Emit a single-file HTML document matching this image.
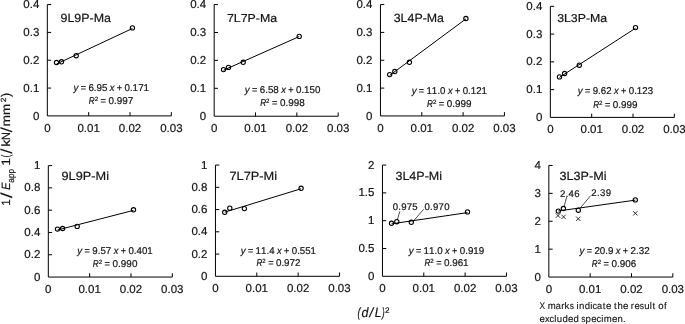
<!DOCTYPE html>
<html><head><meta charset="utf-8"><title>chart</title><style>
html,body{margin:0;padding:0;background:#fff;width:685px;height:324px;overflow:hidden;position:relative}
text{font-family:"Liberation Sans", sans-serif;fill:#141414;font-kerning:none;text-rendering:geometricPrecision}
.tk,.b,.b text{stroke:#141414;stroke-width:0.2px}
.m text{stroke:#141414;stroke-width:0.12px}
.tk{font-size:11.5px}
</style></head><body>
<svg width="685" height="324" viewBox="0 0 685 324" style="position:absolute;left:0;top:0;will-change:transform">
<path d="M47.34 4.57V115.9H171.34" fill="none" stroke="#000" stroke-width="1"/>
<path d="M47.34 88.067h3.8M47.34 60.235h3.8M47.34 32.403h3.8M47.34 4.57h3.8M88.673 115.9v-3.8M130.007 115.9v-3.8M171.34 115.9v-3.8" fill="none" stroke="#000" stroke-width="1"/>
<text x="39.34" y="119.5" text-anchor="end" class="tk">0</text>
<text x="39.34" y="91.667" text-anchor="end" class="tk">0.1</text>
<text x="39.34" y="63.835" text-anchor="end" class="tk">0.2</text>
<text x="39.34" y="36.003" text-anchor="end" class="tk">0.3</text>
<text x="39.34" y="8.17" text-anchor="end" class="tk">0.4</text>
<text x="47.34" y="131.6" text-anchor="middle" class="tk">0</text>
<text x="88.673" y="131.6" text-anchor="middle" class="tk">0.01</text>
<text x="130.007" y="131.6" text-anchor="middle" class="tk">0.02</text>
<text x="171.34" y="131.6" text-anchor="middle" class="tk">0.03</text>
<text transform="matrix(1.037 0 0 0.993 60.517 22.2)" class="b"><tspan x="0" y="0" font-size="12">9L9P-Ma</tspan></text>
<line x1="56.5" y1="64.02" x2="132.4" y2="28.499" stroke="#000" stroke-width="1"/>
<circle cx="56.5" cy="62.5" r="2.15" fill="none" stroke="#000" stroke-width="1.1"/>
<circle cx="61.5" cy="61.8" r="2.15" fill="none" stroke="#000" stroke-width="1.1"/>
<circle cx="76.2" cy="55.7" r="2.15" fill="none" stroke="#000" stroke-width="1.1"/>
<circle cx="132.4" cy="27.9" r="2.15" fill="none" stroke="#000" stroke-width="1.1"/>
<g class="b"><text transform="matrix(0.98 0 0 1 73.45 90.8)" font-size="9.9" font-style="italic">y</text><text transform="matrix(0.92 0 0 1 80.69 90.8)" font-size="9.9">=</text><text transform="matrix(0.99 0 0 1 88.4 90.8)" font-size="9.9">6</text><text transform="matrix(0.98 0 0 1 93.85 90.8)" font-size="9.9">.</text><text transform="matrix(0.99 0 0 1 96.55 90.8)" font-size="9.9">9</text><text transform="matrix(0.99 0 0 1 101.98 90.8)" font-size="9.9">5</text><text transform="matrix(0.94 0 0 1 109.87 90.8)" font-size="9.9" font-style="italic">x</text><text transform="matrix(0.92 0 0 1 116.87 90.8)" font-size="9.9">+</text><text transform="matrix(0.99 0 0 1 124.61 90.8)" font-size="9.9">0</text><text transform="matrix(0.98 0 0 1 130.04 90.8)" font-size="9.9">.</text><text transform="matrix(0.99 0 0 1 132.6 90.8)" font-size="9.9">1</text><text transform="matrix(0.99 0 0 1 138.16 90.8)" font-size="9.9">7</text><text transform="matrix(0.99 0 0 1 143.45 90.8)" font-size="9.9">1</text></g>
<g class="b"><text transform="matrix(0.83 0 0 1 88.75 103.8)" font-size="9.9" font-style="italic">R</text><text x="94.66" y="101.3" font-size="6.14">2</text><text transform="matrix(0.94 0 0 1 100.53 103.8)" font-size="9.9">=</text><text x="108.41" y="103.8" font-size="9.9">0</text><text transform="matrix(1 0 0 1 113.92 103.8)" font-size="9.9">.</text><text x="116.67" y="103.8" font-size="9.9">9</text><text x="122.18" y="103.8" font-size="9.9">9</text><text x="127.69" y="103.8" font-size="9.9">7</text></g>
<path d="M214.18 4.57V116.23H338.18" fill="none" stroke="#000" stroke-width="1"/>
<path d="M214.18 88.315h3.8M214.18 60.4h3.8M214.18 32.485h3.8M214.18 4.57h3.8M255.513 116.23v-3.8M296.847 116.23v-3.8M338.18 116.23v-3.8" fill="none" stroke="#000" stroke-width="1"/>
<text x="206.18" y="119.83" text-anchor="end" class="tk">0</text>
<text x="206.18" y="91.915" text-anchor="end" class="tk">0.1</text>
<text x="206.18" y="64" text-anchor="end" class="tk">0.2</text>
<text x="206.18" y="36.085" text-anchor="end" class="tk">0.3</text>
<text x="206.18" y="8.17" text-anchor="end" class="tk">0.4</text>
<text x="214.18" y="131.93" text-anchor="middle" class="tk">0</text>
<text x="255.513" y="131.93" text-anchor="middle" class="tk">0.01</text>
<text x="296.847" y="131.93" text-anchor="middle" class="tk">0.02</text>
<text x="338.18" y="131.93" text-anchor="middle" class="tk">0.03</text>
<text transform="matrix(1.028 0 0 0.957 226.968 21.9)" class="b"><tspan x="0" y="0" font-size="12">7L7P-Ma</tspan></text>
<line x1="223.5" y1="70.216" x2="299.2" y2="36.576" stroke="#000" stroke-width="1"/>
<circle cx="223.5" cy="69.6" r="2.15" fill="none" stroke="#000" stroke-width="1.1"/>
<circle cx="228.5" cy="67.4" r="2.15" fill="none" stroke="#000" stroke-width="1.1"/>
<circle cx="243.2" cy="62.3" r="2.15" fill="none" stroke="#000" stroke-width="1.1"/>
<circle cx="299.2" cy="36.4" r="2.15" fill="none" stroke="#000" stroke-width="1.1"/>
<g class="b"><text transform="matrix(0.98 0 0 1 244.75 92.8)" font-size="9.9" font-style="italic">y</text><text transform="matrix(0.92 0 0 1 251.99 92.8)" font-size="9.9">=</text><text transform="matrix(0.99 0 0 1 259.71 92.8)" font-size="9.9">6</text><text transform="matrix(0.98 0 0 1 265.17 92.8)" font-size="9.9">.</text><text transform="matrix(0.99 0 0 1 267.88 92.8)" font-size="9.9">5</text><text transform="matrix(0.99 0 0 1 273.3 92.8)" font-size="9.9">8</text><text transform="matrix(0.94 0 0 1 281.2 92.8)" font-size="9.9" font-style="italic">x</text><text transform="matrix(0.92 0 0 1 288.21 92.8)" font-size="9.9">+</text><text transform="matrix(0.99 0 0 1 295.96 92.8)" font-size="9.9">0</text><text transform="matrix(0.98 0 0 1 301.39 92.8)" font-size="9.9">.</text><text transform="matrix(0.99 0 0 1 303.96 92.8)" font-size="9.9">1</text><text transform="matrix(0.99 0 0 1 309.53 92.8)" font-size="9.9">5</text><text transform="matrix(0.99 0 0 1 314.95 92.8)" font-size="9.9">0</text></g>
<g class="b"><text transform="matrix(0.83 0 0 1 260.15 105.6)" font-size="9.9" font-style="italic">R</text><text x="266.08" y="103.1" font-size="6.14">2</text><text transform="matrix(0.94 0 0 1 271.97 105.6)" font-size="9.9">=</text><text x="279.88" y="105.6" font-size="9.9">0</text><text x="285.4" y="105.6" font-size="9.9">.</text><text x="288.16" y="105.6" font-size="9.9">9</text><text x="293.7" y="105.6" font-size="9.9">9</text><text x="299.22" y="105.6" font-size="9.9">8</text></g>
<path d="M380.45 4.57V115.94H504.45" fill="none" stroke="#000" stroke-width="1"/>
<path d="M380.45 88.097h3.8M380.45 60.255h3.8M380.45 32.412h3.8M380.45 4.57h3.8M421.783 115.94v-3.8M463.117 115.94v-3.8M504.45 115.94v-3.8" fill="none" stroke="#000" stroke-width="1"/>
<text x="372.45" y="119.54" text-anchor="end" class="tk">0</text>
<text x="372.45" y="91.697" text-anchor="end" class="tk">0.1</text>
<text x="372.45" y="63.855" text-anchor="end" class="tk">0.2</text>
<text x="372.45" y="36.012" text-anchor="end" class="tk">0.3</text>
<text x="372.45" y="8.17" text-anchor="end" class="tk">0.4</text>
<text x="380.45" y="131.64" text-anchor="middle" class="tk">0</text>
<text x="421.783" y="131.64" text-anchor="middle" class="tk">0.01</text>
<text x="463.117" y="131.64" text-anchor="middle" class="tk">0.02</text>
<text x="504.45" y="131.64" text-anchor="middle" class="tk">0.03</text>
<text transform="matrix(1.032 0 0 0.993 393.728 22.2)" class="b"><tspan x="0" y="0" font-size="12">3L4P-Ma</tspan></text>
<line x1="389.7" y1="75.397" x2="465.9" y2="18.935" stroke="#000" stroke-width="1"/>
<circle cx="389.7" cy="74.6" r="2.15" fill="none" stroke="#000" stroke-width="1.1"/>
<circle cx="394.8" cy="71.5" r="2.15" fill="none" stroke="#000" stroke-width="1.1"/>
<circle cx="409.4" cy="62.3" r="2.15" fill="none" stroke="#000" stroke-width="1.1"/>
<circle cx="465.9" cy="18.5" r="2.15" fill="none" stroke="#000" stroke-width="1.1"/>
<g class="b"><text transform="matrix(0.98 0 0 1 411.65 93.8)" font-size="9.9" font-style="italic">y</text><text transform="matrix(0.92 0 0 1 418.86 93.8)" font-size="9.9">=</text><text transform="matrix(0.98 0 0 1 426.46 93.8)" font-size="9.9">1</text><text transform="matrix(0.98 0 0 1 431.87 93.8)" font-size="9.9">1</text><text transform="matrix(0.98 0 0 1 437.41 93.8)" font-size="9.9">.</text><text transform="matrix(0.98 0 0 1 440.1 93.8)" font-size="9.9">0</text><text transform="matrix(0.93 0 0 1 447.97 93.8)" font-size="9.9" font-style="italic">x</text><text transform="matrix(0.92 0 0 1 454.95 93.8)" font-size="9.9">+</text><text transform="matrix(0.98 0 0 1 462.68 93.8)" font-size="9.9">0</text><text transform="matrix(0.98 0 0 1 468.09 93.8)" font-size="9.9">.</text><text transform="matrix(0.98 0 0 1 470.64 93.8)" font-size="9.9">1</text><text transform="matrix(0.98 0 0 1 476.19 93.8)" font-size="9.9">2</text><text transform="matrix(0.98 0 0 1 481.46 93.8)" font-size="9.9">1</text></g>
<g class="b"><text transform="matrix(0.83 0 0 1 427.05 106.9)" font-size="9.9" font-style="italic">R</text><text x="432.97" y="104.4" font-size="6.14">2</text><text transform="matrix(0.94 0 0 1 438.85 106.9)" font-size="9.9">=</text><text x="446.75" y="106.9" font-size="9.9">0</text><text transform="matrix(1 0 0 1 452.26 106.9)" font-size="9.9">.</text><text x="455.02" y="106.9" font-size="9.9">9</text><text x="460.54" y="106.9" font-size="9.9">9</text><text x="466.06" y="106.9" font-size="9.9">9</text></g>
<path d="M550.35 6.32V117.4H674.35" fill="none" stroke="#000" stroke-width="1"/>
<path d="M550.35 89.63h3.8M550.35 61.86h3.8M550.35 34.09h3.8M550.35 6.32h3.8M591.683 117.4v-3.8M633.017 117.4v-3.8M674.35 117.4v-3.8" fill="none" stroke="#000" stroke-width="1"/>
<text x="542.35" y="121" text-anchor="end" class="tk">0</text>
<text x="542.35" y="93.23" text-anchor="end" class="tk">0.1</text>
<text x="542.35" y="65.46" text-anchor="end" class="tk">0.2</text>
<text x="542.35" y="37.69" text-anchor="end" class="tk">0.3</text>
<text x="542.35" y="9.92" text-anchor="end" class="tk">0.4</text>
<text x="550.35" y="133.1" text-anchor="middle" class="tk">0</text>
<text x="591.683" y="133.1" text-anchor="middle" class="tk">0.01</text>
<text x="633.017" y="133.1" text-anchor="middle" class="tk">0.02</text>
<text x="674.35" y="133.1" text-anchor="middle" class="tk">0.03</text>
<text transform="matrix(1.028 0 0 0.957 557.13 22.4)" class="b"><tspan x="0" y="0" font-size="12">3L3P-Ma</tspan></text>
<line x1="559.5" y1="77.329" x2="635.5" y2="28.208" stroke="#000" stroke-width="1"/>
<circle cx="559.5" cy="76.9" r="2.15" fill="none" stroke="#000" stroke-width="1.1"/>
<circle cx="564.6" cy="73.5" r="2.15" fill="none" stroke="#000" stroke-width="1.1"/>
<circle cx="579.3" cy="65.2" r="2.15" fill="none" stroke="#000" stroke-width="1.1"/>
<circle cx="635.5" cy="27.6" r="2.15" fill="none" stroke="#000" stroke-width="1.1"/>
<g class="b"><text transform="matrix(0.98 0 0 1 577.75 94.2)" font-size="9.9" font-style="italic">y</text><text transform="matrix(0.92 0 0 1 584.97 94.2)" font-size="9.9">=</text><text transform="matrix(0.98 0 0 1 592.71 94.2)" font-size="9.9">9</text><text transform="matrix(0.98 0 0 1 598.12 94.2)" font-size="9.9">.</text><text transform="matrix(0.98 0 0 1 600.78 94.2)" font-size="9.9">6</text><text transform="matrix(0.98 0 0 1 606.23 94.2)" font-size="9.9">2</text><text transform="matrix(0.93 0 0 1 614.11 94.2)" font-size="9.9" font-style="italic">x</text><text transform="matrix(0.92 0 0 1 621.11 94.2)" font-size="9.9">+</text><text transform="matrix(0.98 0 0 1 628.84 94.2)" font-size="9.9">0</text><text transform="matrix(0.98 0 0 1 634.26 94.2)" font-size="9.9">.</text><text transform="matrix(0.98 0 0 1 636.82 94.2)" font-size="9.9">1</text><text transform="matrix(0.98 0 0 1 642.37 94.2)" font-size="9.9">2</text><text transform="matrix(0.98 0 0 1 647.81 94.2)" font-size="9.9">3</text></g>
<g class="b"><text transform="matrix(0.82 0 0 1 593.15 107.9)" font-size="9.9" font-style="italic">R</text><text transform="matrix(1 0 0 1 599.04 105.4)" font-size="6.14">2</text><text transform="matrix(0.93 0 0 1 604.9 107.9)" font-size="9.9">=</text><text transform="matrix(1 0 0 1 612.75 107.9)" font-size="9.9">0</text><text transform="matrix(0.99 0 0 1 618.24 107.9)" font-size="9.9">.</text><text transform="matrix(1 0 0 1 620.98 107.9)" font-size="9.9">9</text><text transform="matrix(1 0 0 1 626.47 107.9)" font-size="9.9">9</text><text transform="matrix(1 0 0 1 631.97 107.9)" font-size="9.9">9</text></g>
<path d="M48.32 165.58V277.05H172.32" fill="none" stroke="#000" stroke-width="1"/>
<path d="M48.32 254.756h3.8M48.32 232.462h3.8M48.32 210.168h3.8M48.32 187.874h3.8M48.32 165.58h3.8M89.653 277.05v-3.8M130.987 277.05v-3.8M172.32 277.05v-3.8" fill="none" stroke="#000" stroke-width="1"/>
<text x="40.32" y="280.65" text-anchor="end" class="tk">0</text>
<text x="40.32" y="258.356" text-anchor="end" class="tk">0.2</text>
<text x="40.32" y="236.062" text-anchor="end" class="tk">0.4</text>
<text x="40.32" y="213.768" text-anchor="end" class="tk">0.6</text>
<text x="40.32" y="191.474" text-anchor="end" class="tk">0.8</text>
<text x="40.32" y="169.18" text-anchor="end" class="tk">1</text>
<text x="48.32" y="292.75" text-anchor="middle" class="tk">0</text>
<text x="89.653" y="292.75" text-anchor="middle" class="tk">0.01</text>
<text x="130.987" y="292.75" text-anchor="middle" class="tk">0.02</text>
<text x="172.32" y="292.75" text-anchor="middle" class="tk">0.03</text>
<text transform="matrix(1.062 0 0 0.993 61.503 179.8)" class="b"><tspan x="0" y="0" font-size="12">9L9P-Mi</tspan></text>
<line x1="57.5" y1="229.981" x2="133.5" y2="210.367" stroke="#000" stroke-width="1"/>
<circle cx="57.5" cy="229.1" r="2.15" fill="none" stroke="#000" stroke-width="1.1"/>
<circle cx="62.6" cy="228.5" r="2.15" fill="none" stroke="#000" stroke-width="1.1"/>
<circle cx="77.2" cy="226.4" r="2.15" fill="none" stroke="#000" stroke-width="1.1"/>
<circle cx="133.5" cy="209.8" r="2.15" fill="none" stroke="#000" stroke-width="1.1"/>
<g class="b"><text transform="matrix(0.98 0 0 1 77.35 253.8)" font-size="9.9" font-style="italic">y</text><text transform="matrix(0.92 0 0 1 84.56 253.8)" font-size="9.9">=</text><text transform="matrix(0.98 0 0 1 92.29 253.8)" font-size="9.9">9</text><text transform="matrix(0.98 0 0 1 97.7 253.8)" font-size="9.9">.</text><text transform="matrix(0.98 0 0 1 100.4 253.8)" font-size="9.9">5</text><text transform="matrix(0.98 0 0 1 105.79 253.8)" font-size="9.9">7</text><text transform="matrix(0.93 0 0 1 113.67 253.8)" font-size="9.9" font-style="italic">x</text><text transform="matrix(0.92 0 0 1 120.65 253.8)" font-size="9.9">+</text><text transform="matrix(0.98 0 0 1 128.38 253.8)" font-size="9.9">0</text><text transform="matrix(0.98 0 0 1 133.79 253.8)" font-size="9.9">.</text><text transform="matrix(0.98 0 0 1 136.51 253.8)" font-size="9.9">4</text><text transform="matrix(0.98 0 0 1 141.89 253.8)" font-size="9.9">0</text><text transform="matrix(0.98 0 0 1 147.16 253.8)" font-size="9.9">1</text></g>
<g class="b"><text transform="matrix(0.83 0 0 1 92.75 266.9)" font-size="9.9" font-style="italic">R</text><text x="98.69" y="264.4" font-size="6.14">2</text><text transform="matrix(0.94 0 0 1 104.59 266.9)" font-size="9.9">=</text><text x="112.51" y="266.9" font-size="9.9">0</text><text x="118.03" y="266.9" font-size="9.9">.</text><text x="120.8" y="266.9" font-size="9.9">9</text><text x="126.34" y="266.9" font-size="9.9">9</text><text x="131.88" y="266.9" font-size="9.9">0</text></g>
<path d="M215.46 165.08V276.3H339.46" fill="none" stroke="#000" stroke-width="1"/>
<path d="M215.46 254.056h3.8M215.46 231.812h3.8M215.46 209.568h3.8M215.46 187.324h3.8M215.46 165.08h3.8M256.793 276.3v-3.8M298.127 276.3v-3.8M339.46 276.3v-3.8" fill="none" stroke="#000" stroke-width="1"/>
<text x="207.46" y="279.9" text-anchor="end" class="tk">0</text>
<text x="207.46" y="257.656" text-anchor="end" class="tk">0.2</text>
<text x="207.46" y="235.412" text-anchor="end" class="tk">0.4</text>
<text x="207.46" y="213.168" text-anchor="end" class="tk">0.6</text>
<text x="207.46" y="190.924" text-anchor="end" class="tk">0.8</text>
<text x="207.46" y="168.68" text-anchor="end" class="tk">1</text>
<text x="215.46" y="292" text-anchor="middle" class="tk">0</text>
<text x="256.793" y="292" text-anchor="middle" class="tk">0.01</text>
<text x="298.127" y="292" text-anchor="middle" class="tk">0.02</text>
<text x="339.46" y="292" text-anchor="middle" class="tk">0.03</text>
<text transform="matrix(1.066 0 0 0.993 229.444 179.8)" class="b"><tspan x="0" y="0" font-size="12">7L7P-Mi</tspan></text>
<line x1="224.7" y1="212.183" x2="301.1" y2="188.748" stroke="#000" stroke-width="1"/>
<circle cx="224.7" cy="212.3" r="2.15" fill="none" stroke="#000" stroke-width="1.1"/>
<circle cx="229.8" cy="208.2" r="2.15" fill="none" stroke="#000" stroke-width="1.1"/>
<circle cx="244.4" cy="208.6" r="2.15" fill="none" stroke="#000" stroke-width="1.1"/>
<circle cx="301.1" cy="188.3" r="2.15" fill="none" stroke="#000" stroke-width="1.1"/>
<g class="b"><text transform="matrix(0.97 0 0 1 240.85 253.6)" font-size="9.9" font-style="italic">y</text><text transform="matrix(0.92 0 0 1 248.04 253.6)" font-size="9.9">=</text><text transform="matrix(0.98 0 0 1 255.61 253.6)" font-size="9.9">1</text><text transform="matrix(0.98 0 0 1 261.01 253.6)" font-size="9.9">1</text><text transform="matrix(0.98 0 0 1 266.54 253.6)" font-size="9.9">.</text><text transform="matrix(0.98 0 0 1 269.25 253.6)" font-size="9.9">4</text><text transform="matrix(0.93 0 0 1 277.07 253.6)" font-size="9.9" font-style="italic">x</text><text transform="matrix(0.92 0 0 1 284.04 253.6)" font-size="9.9">+</text><text transform="matrix(0.98 0 0 1 291.74 253.6)" font-size="9.9">0</text><text transform="matrix(0.98 0 0 1 297.14 253.6)" font-size="9.9">.</text><text transform="matrix(0.98 0 0 1 299.83 253.6)" font-size="9.9">5</text><text transform="matrix(0.98 0 0 1 305.22 253.6)" font-size="9.9">5</text><text transform="matrix(0.98 0 0 1 310.48 253.6)" font-size="9.9">1</text></g>
<g class="b"><text transform="matrix(0.82 0 0 1 256.45 265.9)" font-size="9.9" font-style="italic">R</text><text transform="matrix(0.99 0 0 1 262.3 263.4)" font-size="6.14">2</text><text transform="matrix(0.93 0 0 1 268.13 265.9)" font-size="9.9">=</text><text transform="matrix(0.99 0 0 1 275.93 265.9)" font-size="9.9">0</text><text transform="matrix(0.99 0 0 1 281.39 265.9)" font-size="9.9">.</text><text transform="matrix(0.99 0 0 1 284.11 265.9)" font-size="9.9">9</text><text transform="matrix(0.99 0 0 1 289.56 265.9)" font-size="9.9">7</text><text transform="matrix(0.99 0 0 1 295.03 265.9)" font-size="9.9">2</text></g>
<path d="M382.46 165.08V276.3H506.46" fill="none" stroke="#000" stroke-width="1"/>
<path d="M382.46 248.495h3.8M382.46 220.69h3.8M382.46 192.885h3.8M382.46 165.08h3.8M423.793 276.3v-3.8M465.127 276.3v-3.8M506.46 276.3v-3.8" fill="none" stroke="#000" stroke-width="1"/>
<text x="374.46" y="279.9" text-anchor="end" class="tk">0</text>
<text x="374.46" y="252.095" text-anchor="end" class="tk">0.5</text>
<text x="374.46" y="224.29" text-anchor="end" class="tk">1</text>
<text x="374.46" y="196.485" text-anchor="end" class="tk">1.5</text>
<text x="374.46" y="168.68" text-anchor="end" class="tk">2</text>
<text x="382.46" y="292" text-anchor="middle" class="tk">0</text>
<text x="423.793" y="292" text-anchor="middle" class="tk">0.01</text>
<text x="465.127" y="292" text-anchor="middle" class="tk">0.02</text>
<text x="506.46" y="292" text-anchor="middle" class="tk">0.03</text>
<text transform="matrix(1.043 0 0 0.993 395.423 180.1)" class="b"><tspan x="0" y="0" font-size="12">3L4P-Mi</tspan></text>
<line x1="391.5" y1="223.857" x2="467.5" y2="212.609" stroke="#000" stroke-width="1"/>
<circle cx="391.5" cy="223.3" r="2.15" fill="none" stroke="#000" stroke-width="1.1"/>
<circle cx="396.8" cy="221.7" r="2.15" fill="none" stroke="#000" stroke-width="1.1"/>
<circle cx="411.3" cy="222.3" r="2.15" fill="none" stroke="#000" stroke-width="1.1"/>
<circle cx="467.5" cy="211.9" r="2.15" fill="none" stroke="#000" stroke-width="1.1"/>
<g class="b"><text transform="matrix(0.98 0 0 1 408.65 253.6)" font-size="9.9" font-style="italic">y</text><text transform="matrix(0.92 0 0 1 415.89 253.6)" font-size="9.9">=</text><text transform="matrix(0.99 0 0 1 423.51 253.6)" font-size="9.9">1</text><text transform="matrix(0.99 0 0 1 428.93 253.6)" font-size="9.9">1</text><text transform="matrix(0.98 0 0 1 434.5 253.6)" font-size="9.9">.</text><text transform="matrix(0.99 0 0 1 437.19 253.6)" font-size="9.9">0</text><text transform="matrix(0.94 0 0 1 445.09 253.6)" font-size="9.9" font-style="italic">x</text><text transform="matrix(0.92 0 0 1 452.1 253.6)" font-size="9.9">+</text><text transform="matrix(0.99 0 0 1 459.85 253.6)" font-size="9.9">0</text><text transform="matrix(0.98 0 0 1 465.28 253.6)" font-size="9.9">.</text><text transform="matrix(0.99 0 0 1 467.98 253.6)" font-size="9.9">9</text><text transform="matrix(0.99 0 0 1 473.27 253.6)" font-size="9.9">1</text><text transform="matrix(0.99 0 0 1 478.83 253.6)" font-size="9.9">9</text></g>
<g class="b"><text transform="matrix(0.82 0 0 1 424.45 265.9)" font-size="9.9" font-style="italic">R</text><text transform="matrix(1 0 0 1 430.33 263.4)" font-size="6.14">2</text><text transform="matrix(0.93 0 0 1 436.18 265.9)" font-size="9.9">=</text><text transform="matrix(1 0 0 1 444.02 265.9)" font-size="9.9">0</text><text transform="matrix(0.99 0 0 1 449.51 265.9)" font-size="9.9">.</text><text transform="matrix(1 0 0 1 452.25 265.9)" font-size="9.9">9</text><text transform="matrix(1 0 0 1 457.7 265.9)" font-size="9.9">6</text><text transform="matrix(1 0 0 1 463.09 265.9)" font-size="9.9">1</text></g>
<path d="M548.83 165.46V277.05H672.83" fill="none" stroke="#000" stroke-width="1"/>
<path d="M548.83 249.153h3.8M548.83 221.255h3.8M548.83 193.358h3.8M548.83 165.46h3.8M590.163 277.05v-3.8M631.497 277.05v-3.8M672.83 277.05v-3.8" fill="none" stroke="#000" stroke-width="1"/>
<text x="540.83" y="280.65" text-anchor="end" class="tk">0</text>
<text x="540.83" y="252.752" text-anchor="end" class="tk">1</text>
<text x="540.83" y="224.855" text-anchor="end" class="tk">2</text>
<text x="540.83" y="196.958" text-anchor="end" class="tk">3</text>
<text x="540.83" y="169.06" text-anchor="end" class="tk">4</text>
<text x="548.83" y="292.75" text-anchor="middle" class="tk">0</text>
<text x="590.163" y="292.75" text-anchor="middle" class="tk">0.01</text>
<text x="631.497" y="292.75" text-anchor="middle" class="tk">0.02</text>
<text x="672.83" y="292.75" text-anchor="middle" class="tk">0.03</text>
<text transform="matrix(1.055 0 0 0.993 559.418 180.1)" class="b"><tspan x="0" y="0" font-size="12">3L3P-Mi</tspan></text>
<line x1="558.3" y1="210.992" x2="635.3" y2="200.13" stroke="#000" stroke-width="1"/>
<circle cx="558.3" cy="211.1" r="2.15" fill="none" stroke="#000" stroke-width="1.1"/>
<circle cx="563.4" cy="208.5" r="2.15" fill="none" stroke="#000" stroke-width="1.1"/>
<circle cx="578.3" cy="210.2" r="2.15" fill="none" stroke="#000" stroke-width="1.1"/>
<circle cx="635.3" cy="199.9" r="2.15" fill="none" stroke="#000" stroke-width="1.1"/>
<g class="b"><text transform="matrix(0.98 0 0 1 579.45 253.8)" font-size="9.9" font-style="italic">y</text><text transform="matrix(0.92 0 0 1 586.69 253.8)" font-size="9.9">=</text><text transform="matrix(0.99 0 0 1 594.43 253.8)" font-size="9.9">2</text><text transform="matrix(0.99 0 0 1 599.86 253.8)" font-size="9.9">0</text><text transform="matrix(0.98 0 0 1 605.28 253.8)" font-size="9.9">.</text><text transform="matrix(0.99 0 0 1 607.98 253.8)" font-size="9.9">9</text><text transform="matrix(0.94 0 0 1 615.87 253.8)" font-size="9.9" font-style="italic">x</text><text transform="matrix(0.92 0 0 1 622.87 253.8)" font-size="9.9">+</text><text transform="matrix(0.99 0 0 1 630.62 253.8)" font-size="9.9">2</text><text transform="matrix(0.98 0 0 1 636.04 253.8)" font-size="9.9">.</text><text transform="matrix(0.99 0 0 1 638.77 253.8)" font-size="9.9">3</text><text transform="matrix(0.99 0 0 1 644.17 253.8)" font-size="9.9">2</text></g>
<g class="b"><text transform="matrix(0.82 0 0 1 591.85 266.8)" font-size="9.9" font-style="italic">R</text><text transform="matrix(1 0 0 1 597.74 264.3)" font-size="6.14">2</text><text transform="matrix(0.93 0 0 1 603.6 266.8)" font-size="9.9">=</text><text transform="matrix(1 0 0 1 611.45 266.8)" font-size="9.9">0</text><text transform="matrix(0.99 0 0 1 616.94 266.8)" font-size="9.9">.</text><text transform="matrix(1 0 0 1 619.68 266.8)" font-size="9.9">9</text><text transform="matrix(1 0 0 1 625.17 266.8)" font-size="9.9">0</text><text transform="matrix(1 0 0 1 630.64 266.8)" font-size="9.9">6</text></g>
<path d="M555.8 213.4L560.2 217.8M560.2 213.4L555.8 217.8" stroke="#000" stroke-width="0.8"/>
<path d="M561.4 214.7L565.8 219.1M565.8 214.7L561.4 219.1" stroke="#000" stroke-width="0.8"/>
<path d="M576.1 216.6L580.5 221M580.5 216.6L576.1 221" stroke="#000" stroke-width="0.8"/>
<path d="M633.1 211.1L637.5 215.5M637.5 211.1L633.1 215.5" stroke="#000" stroke-width="0.8"/>
<path d="M399.9 211.3L397.3 219.8M423.7 209.2L413.9 220.6M566.6 197L564.1 206.8M590.7 195.6L580.5 207.7" stroke="#000" stroke-width="0.7" fill="none"/>
<g class="b"><text x="392.82" y="209.6" font-size="9.6">0</text><text x="398.32" y="209.6" font-size="9.6">.</text><text x="401.14" y="209.6" font-size="9.6">9</text><text x="406.69" y="209.6" font-size="9.6">7</text><text x="412.26" y="209.6" font-size="9.6">5</text></g>
<g class="b"><text x="424.52" y="209.8" font-size="9.6">0</text><text x="430.08" y="209.8" font-size="9.6">.</text><text x="432.97" y="209.8" font-size="9.6">9</text><text x="438.59" y="209.8" font-size="9.6">7</text><text x="444.24" y="209.8" font-size="9.6">0</text></g>
<g class="b"><text x="560.12" y="196.7" font-size="9.6">2</text><text x="565.68" y="196.7" font-size="9.6">.</text><text x="568.6" y="196.7" font-size="9.6">4</text><text x="574.18" y="196.7" font-size="9.6">6</text></g>
<g class="b"><text x="591.22" y="196.2" font-size="9.6">2</text><text x="596.93" y="196.2" font-size="9.6">.</text><text x="600" y="196.2" font-size="9.6">3</text><text x="605.82" y="196.2" font-size="9.6">9</text></g>
<g transform="rotate(-90)">
<text transform="matrix(0.986 0 0 1 -205.701 10.4)" font-size="12" class="b">1</text>
<text transform="matrix(1.327 0 0 1.004 -198.2 12.143)" font-size="16">/</text>
<text transform="matrix(0.891 0 0 1 -189.629 10.4)" font-size="12" font-style="italic" class="b">E</text>
<text transform="matrix(0.912 0 0 1 -182.649 13.8)" font-size="9" class="b">app</text>
<text transform="matrix(1.14 0 0 1 -165.742 10.4)" font-size="12" class="b">1</text>
<text transform="matrix(0.724 0 0 0.996 -157.561 9.922)" font-size="12.5" class="b">(</text>
<text transform="matrix(1.17 0 0 1.004 -153.8 11.943)" font-size="16">/</text>
<text transform="matrix(1.171 0 0 1 -146.847 10.4)" font-size="12" class="b">k</text>
<text transform="matrix(0.91 0 0 1 -140.096 10.4)" font-size="12" class="b">N</text>
<text transform="matrix(1.26 0 0 1.004 -132.6 12.143)" font-size="16">/</text>
<text transform="matrix(1.154 0 0 1 -126.419 10.4)" font-size="12" class="b">m</text>
<text transform="matrix(1.118 0 0 1 -114.991 10.4)" font-size="12" class="b">m</text>
<text transform="matrix(1.141 0 0 1 -102.331 5.6)" font-size="7.5" class="b">2</text>
<text transform="matrix(0.996 0 0 1.005 -96.973 10.2)" font-size="12.5" class="b">)</text>
</g>
<text transform="matrix(0.669 0 0 1 357.383 316.8)" font-size="13.3" font-style="italic" class="b">(</text>
<text transform="matrix(0.932 0 0 1 361.583 316.8)" font-size="13.3" font-style="italic" class="b">d</text>
<text transform="matrix(1.002 0 0 1 369.554 316.8)" font-size="13.3" font-style="italic" class="b">/</text>
<text transform="matrix(0.908 0 0 1 374.629 316.8)" font-size="13.3" font-style="italic" class="b">L</text>
<text transform="matrix(0.609 0 0 1 381.987 316.8)" font-size="13.3" font-style="italic" class="b">)</text>
<text transform="matrix(1.015 0 0 1 385.092 312.5)" font-size="8" class="b">2</text>
<g class="m"><text transform="matrix(0.87 0 0 1 539.41 308.9)" font-size="9.6">X</text><text x="547.71" y="308.9" font-size="9.6">m</text><text transform="matrix(0.96 0 0 1 555.81 308.9)" font-size="9.6">a</text><text x="561.19" y="308.9" font-size="9.6">r</text><text x="564.61" y="308.9" font-size="9.6">k</text><text transform="matrix(0.88 0 0 1 569.82 308.9)" font-size="9.6">s</text><text x="576.58" y="308.9" font-size="9.6">i</text><text x="579.02" y="308.9" font-size="9.6">n</text><text x="584.78" y="308.9" font-size="9.6">d</text><text x="590.32" y="308.9" font-size="9.6">i</text><text transform="matrix(0.95 0 0 1 592.54 308.9)" font-size="9.6">c</text><text transform="matrix(0.96 0 0 1 596.96 308.9)" font-size="9.6">a</text><text x="602.74" y="308.9" font-size="9.6">t</text><text x="605.92" y="308.9" font-size="9.6">e</text><text x="614.11" y="308.9" font-size="9.6">t</text><text x="617.41" y="308.9" font-size="9.6">h</text><text x="622.94" y="308.9" font-size="9.6">e</text><text x="630.74" y="308.9" font-size="9.6">r</text><text x="634.46" y="308.9" font-size="9.6">e</text><text transform="matrix(0.88 0 0 1 639.83 308.9)" font-size="9.6">s</text><text x="644.16" y="308.9" font-size="9.6">u</text><text x="649.8" y="308.9" font-size="9.6">l</text><text x="652.53" y="308.9" font-size="9.6">t</text><text x="658.29" y="308.9" font-size="9.6">o</text><text x="664.02" y="308.9" font-size="9.6">f</text></g>
<g class="m"><text x="539.59" y="321.7" font-size="9.6">e</text><text transform="matrix(0.97 0 0 1 544.93 321.7)" font-size="9.6">x</text><text transform="matrix(0.95 0 0 1 549.51 321.7)" font-size="9.6">c</text><text x="554.29" y="321.7" font-size="9.6">l</text><text x="556.75" y="321.7" font-size="9.6">u</text><text x="562.49" y="321.7" font-size="9.6">d</text><text x="567.89" y="321.7" font-size="9.6">e</text><text x="573.49" y="321.7" font-size="9.6">d</text><text transform="matrix(0.88 0 0 1 581.34 321.7)" font-size="9.6">s</text><text x="585.55" y="321.7" font-size="9.6">p</text><text x="591.16" y="321.7" font-size="9.6">e</text><text transform="matrix(0.95 0 0 1 596.42 321.7)" font-size="9.6">c</text><text x="601.21" y="321.7" font-size="9.6">i</text><text x="603.8" y="321.7" font-size="9.6">m</text><text x="612.11" y="321.7" font-size="9.6">e</text><text x="617.59" y="321.7" font-size="9.6">n</text><text x="623.11" y="321.7" font-size="9.6">.</text></g>
</svg>
</body></html>
